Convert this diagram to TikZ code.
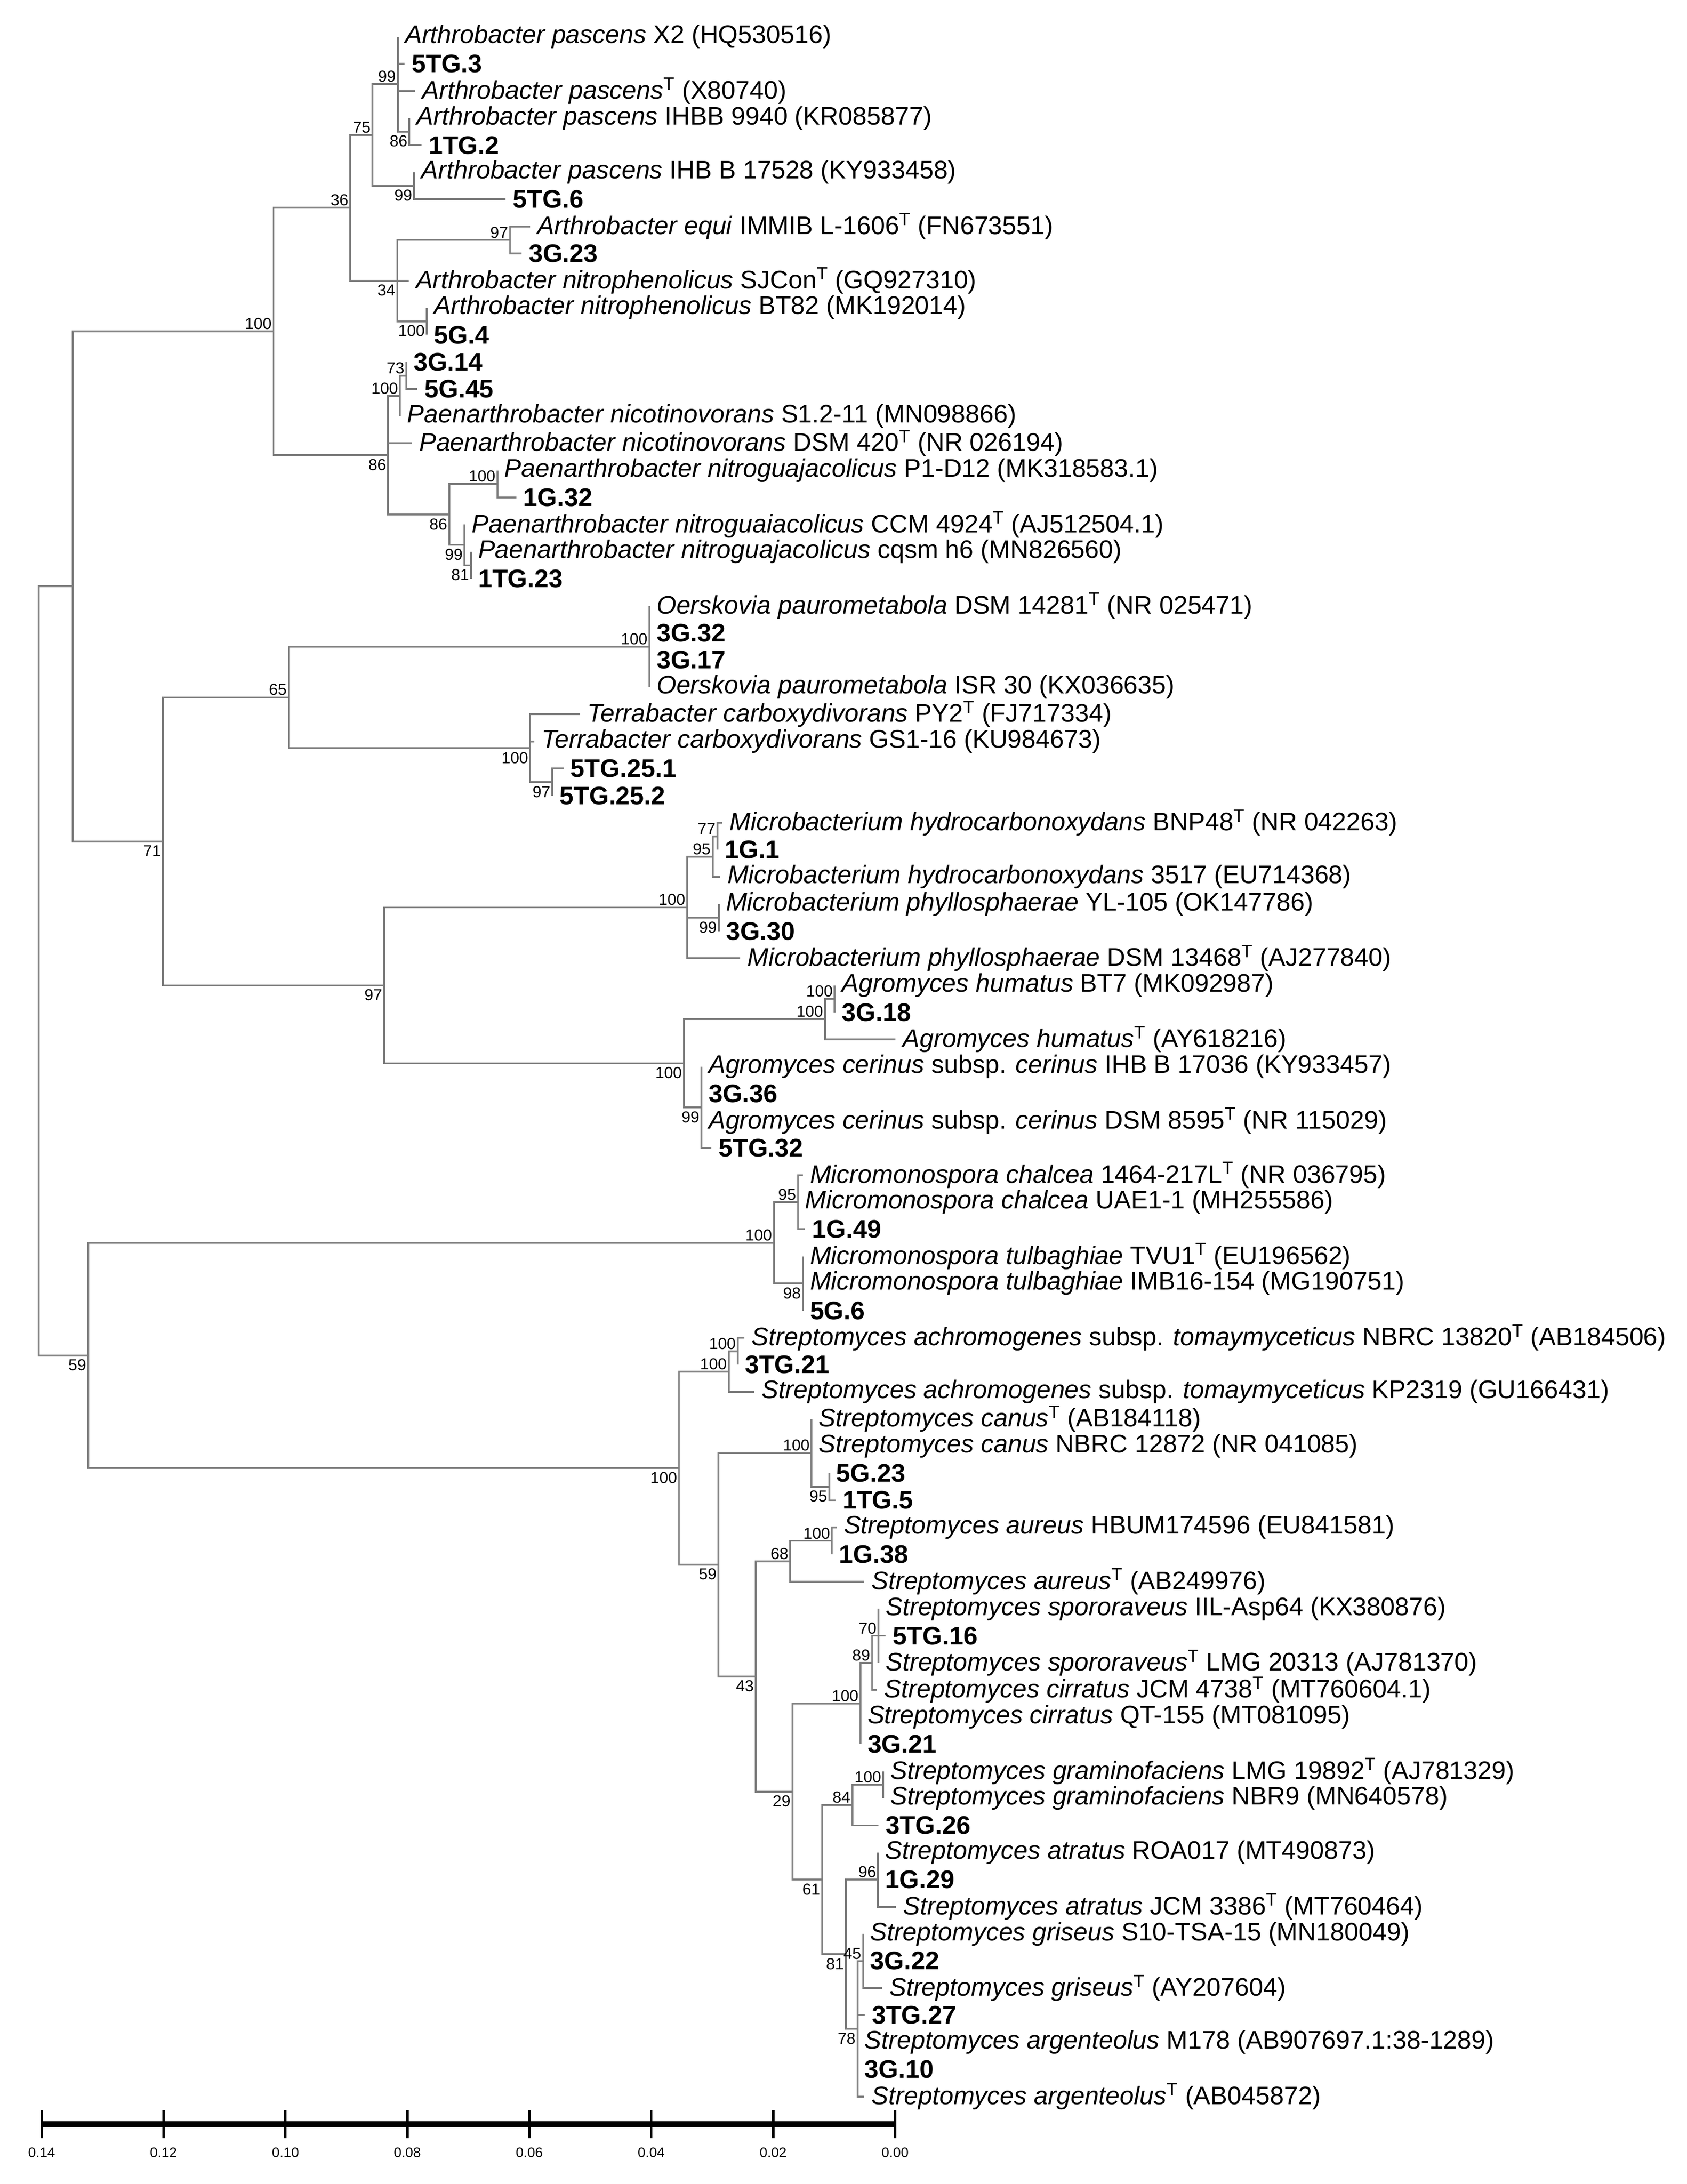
\documentclass[tikz,border=0pt]{standalone}
\usepackage{fontspec}
\setmainfont{Liberation Sans}
\newcommand\supT{\textsuperscript{T}}
\definecolor{brc}{RGB}{125,125,125}
\begin{document}
\begin{tikzpicture}[x=1pt,y=-19.53pt,
  br/.style={draw=brc,line width=1.3pt},
  leaf/.style={anchor=west,inner xsep=5pt,inner ysep=0pt,font=\fontsize{18.3}{20}\selectfont},
  bl/.style={leaf,font=\fontsize{18.3}{20}\selectfont\bfseries},
  bsa/.style={anchor=south east,inner sep=1.2pt,font=\fontsize{11.5}{12}\selectfont},
  bsb/.style={anchor=north east,inner sep=1.2pt,yshift=-1.5pt,font=\fontsize{11.5}{12}\selectfont},
  tl/.style={font=\fontsize{10}{11}\selectfont,inner sep=0pt}]
\useasboundingbox (0,-0.357) rectangle (1215.6,80.23);
% ---------- leaves ----------
\node[leaf] (l1) at (286.7,1) {\textit{Arthrobacter pascens} X2 (HQ530516)};
\node[bl] (l2) at (291.5,2) {5TG.3};
\node[leaf] (l3) at (299,3) {\textit{Arthrobacter pascens}\supT{} (X80740)};
\node[leaf] (l4) at (295,4) {\textit{Arthrobacter pascens} IHBB 9940 (KR085877)};
\node[bl] (l5) at (303.7,5) {1TG.2};
\node[leaf] (l6) at (298.4,6) {\textit{Arthrobacter pascens} IHB B 17528 (KY933458)};
\node[bl] (l7) at (364.4,7) {5TG.6};
\node[leaf] (l8) at (382,8) {\textit{Arthrobacter equi} IMMIB L-1606\supT{} (FN673551)};
\node[bl] (l9) at (375.8,9) {3G.23};
\node[leaf] (l10) at (294.5,10) {\textit{Arthrobacter nitrophenolicus} SJCon\supT{} (GQ927310)};
\node[leaf] (l11) at (307.5,11) {\textit{Arthrobacter nitrophenolicus} BT82 (MK192014)};
\node[bl] (l12) at (307.5,12) {5G.4};
\node[bl] (l13) at (292.8,13) {3G.14};
\node[bl] (l14) at (300.7,14) {5G.45};
\node[leaf] (l15) at (288.2,15) {\textit{Paenarthrobacter nicotinovorans} S1.2-11 (MN098866)};
\node[leaf] (l16) at (296.9,16) {\textit{Paenarthrobacter nicotinovorans} DSM 420\supT{} (NR 026194)};
\node[leaf] (l17) at (358.4,17) {\textit{Paenarthrobacter nitroguajacolicus} P1-D12 (MK318583.1)};
\node[bl] (l18) at (372,18) {1G.32};
\node[leaf] (l19) at (334.8,19) {\textit{Paenarthrobacter nitroguaiacolicus} CCM 4924\supT{} (AJ512504.1)};
\node[leaf] (l20) at (339.4,20) {\textit{Paenarthrobacter nitroguajacolicus} cqsm h6 (MN826560)};
\node[bl] (l21) at (339.4,21) {1TG.23};
\node[leaf] (l22) at (468,22) {\textit{Oerskovia paurometabola} DSM 14281\supT{} (NR 025471)};
\node[bl] (l23) at (468,23) {3G.32};
\node[bl] (l24) at (468,24) {3G.17};
\node[leaf] (l25) at (468,25) {\textit{Oerskovia paurometabola} ISR 30 (KX036635)};
\node[leaf] (l26) at (418,26) {\textit{Terrabacter carboxydivorans} PY2\supT{} (FJ717334)};
\node[leaf] (l27) at (385,27) {\textit{Terrabacter carboxydivorans} GS1-16 (KU984673)};
\node[bl] (l28) at (406,28) {5TG.25.1};
\node[bl] (l29) at (398,29) {5TG.25.2};
\node[leaf] (l30) at (520.5,30) {\textit{Microbacterium hydrocarbonoxydans} BNP48\supT{} (NR 042263)};
\node[bl] (l31) at (517,31) {1G.1};
\node[leaf] (l32) at (519,32) {\textit{Microbacterium hydrocarbonoxydans} 3517 (EU714368)};
\node[leaf] (l33) at (518,33) {\textit{Microbacterium phyllosphaerae} YL-105 (OK147786)};
\node[bl] (l34) at (518,34) {3G.30};
\node[leaf] (l35) at (533.4,35) {\textit{Microbacterium phyllosphaerae} DSM 13468\supT{} (AJ277840)};
\node[leaf] (l36) at (601.5,36) {\textit{Agromyces humatus} BT7 (MK092987)};
\node[bl] (l37) at (601.5,37) {3G.18};
\node[leaf] (l38) at (645.3,38) {\textit{Agromyces humatus}\supT{} (AY618216)};
\node[leaf] (l39) at (505.4,39) {\textit{Agromyces cerinus} subsp. \textit{cerinus} IHB B 17036 (KY933457)};
\node[bl] (l40) at (505.4,40) {3G.36};
\node[leaf] (l41) at (505.4,41) {\textit{Agromyces cerinus} subsp. \textit{cerinus} DSM 8595\supT{} (NR 115029)};
\node[bl] (l42) at (512.6,42) {5TG.32};
\node[leaf] (l43) at (578.5,43) {\textit{Micromonospora chalcea} 1464-217L\supT{} (NR 036795)};
\node[leaf] (l44) at (575,44) {\textit{Micromonospora chalcea} UAE1-1 (MH255586)};
\node[bl] (l45) at (580,45) {1G.49};
\node[leaf] (l46) at (578.5,46) {\textit{Micromonospora tulbaghiae} TVU1\supT{} (EU196562)};
\node[leaf] (l47) at (578.5,47) {\textit{Micromonospora tulbaghiae} IMB16-154 (MG190751)};
\node[bl] (l48) at (578.5,48) {5G.6};
\node[leaf] (l49) at (536.5,49) {\textit{Streptomyces achromogenes} subsp. \textit{tomaymyceticus} NBRC 13820\supT{} (AB184506)};
\node[bl] (l50) at (531.6,50) {3TG.21};
\node[leaf] (l51) at (543.5,51) {\textit{Streptomyces achromogenes} subsp. \textit{tomaymyceticus} KP2319 (GU166431)};
\node[leaf] (l52) at (584.8,52) {\textit{Streptomyces canus}\supT{} (AB184118)};
\node[leaf] (l53) at (584.8,53) {\textit{Streptomyces canus} NBRC 12872 (NR 041085)};
\node[bl] (l54) at (597.5,54) {5G.23};
\node[bl] (l55) at (602,55) {1TG.5};
\node[leaf] (l56) at (603,56) {\textit{Streptomyces aureus} HBUM174596 (EU841581)};
\node[bl] (l57) at (599.5,57) {1G.38};
\node[leaf] (l58) at (622.8,58) {\textit{Streptomyces aureus}\supT{} (AB249976)};
\node[leaf] (l59) at (633,59) {\textit{Streptomyces spororaveus} IIL-Asp64 (KX380876)};
\node[bl] (l60) at (638.2,60) {5TG.16};
\node[leaf] (l61) at (633,61) {\textit{Streptomyces spororaveus}\supT{} LMG 20313 (AJ781370)};
\node[leaf] (l62) at (632,62) {\textit{Streptomyces cirratus} JCM 4738\supT{} (MT760604.1)};
\node[leaf] (l63) at (620,63) {\textit{Streptomyces cirratus} QT-155 (MT081095)};
\node[bl] (l64) at (620,64) {3G.21};
\node[leaf] (l65) at (636.4,65) {\textit{Streptomyces graminofaciens} LMG 19892\supT{} (AJ781329)};
\node[leaf] (l66) at (636.4,66) {\textit{Streptomyces graminofaciens} NBR9 (MN640578)};
\node[bl] (l67) at (633.1,67) {3TG.26};
\node[leaf] (l68) at (632.8,68) {\textit{Streptomyces atratus} ROA017 (MT490873)};
\node[bl] (l69) at (632.8,69) {1G.29};
\node[leaf] (l70) at (645.7,70) {\textit{Streptomyces atratus} JCM 3386\supT{} (MT760464)};
\node[leaf] (l71) at (622,71) {\textit{Streptomyces griseus} S10-TSA-15 (MN180049)};
\node[bl] (l72) at (622,72) {3G.22};
\node[leaf] (l73) at (635.7,73) {\textit{Streptomyces griseus}\supT{} (AY207604)};
\node[bl] (l74) at (623.1,74) {3TG.27};
\node[leaf] (l75) at (617.9,75) {\textit{Streptomyces argenteolus} M178 (AB907697.1:38-1289)};
\node[bl] (l76) at (617.9,76) {3G.10};
\node[leaf] (l77) at (622.9,77) {\textit{Streptomyces argenteolus}\supT{} (AB045872)};
% ---------- internal nodes ----------
\coordinate (F) at (295,4.5);
\coordinate (D) at (286.7,2.75);
\coordinate (E) at (298.4,6.5);
\coordinate (C) at (268.5,4.625);
\coordinate (H) at (367.5,8.5);
\coordinate (I) at (307.5,11.5);
\coordinate (G) at (286.2,10);
\coordinate (B) at (252.4,7.3125);
\coordinate (M) at (292.8,13.5);
\coordinate (K) at (288.2,14.25);
\coordinate (N) at (358.4,17.5);
\coordinate (P) at (339.4,20.5);
\coordinate (O) at (334.8,19.75);
\coordinate (L) at (323.7,18.625);
\coordinate (J) at (279.7,16.4375);
\coordinate (A) at (197.1,11.875);
\coordinate (Q) at (468,23.5);
\coordinate (S) at (398,28.5);
\coordinate (R) at (382,27.25);
\coordinate (T) at (208,25.375);
\coordinate (Y) at (517,30.5);
\coordinate (X) at (513.5,31.25);
\coordinate (Z) at (518,33.5);
\coordinate (V) at (495.2,33.125);
\coordinate (AC) at (601.5,36.5);
\coordinate (AA) at (594.5,37.25);
\coordinate (AB) at (505.4,40.5);
\coordinate (W) at (492.8,38.875);
\coordinate (U) at (276.8,36);
\coordinate (U0) at (117.4,30.69);
\coordinate (N1) at (52.4,21.28);
\coordinate (MA) at (575,44);
\coordinate (MB) at (578.5,47);
\coordinate (MM) at (557.7,45.5);
\coordinate (SB) at (531.6,49.5);
\coordinate (SA) at (525.1,50.25);
\coordinate (SE) at (597.5,54.5);
\coordinate (SD) at (584.8,53.25);
\coordinate (SH) at (599.5,56.5);
\coordinate (SG) at (569.5,57.25);
\coordinate (SK) at (633,60);
\coordinate (SJ) at (628.4,61);
\coordinate (SI) at (620,62.5);
\coordinate (SO) at (636.4,65.5);
\coordinate (SN) at (614.2,66.25);
\coordinate (SQ) at (632.8,69);
\coordinate (SR) at (622,72);
\coordinate (ST) at (617.9,74.5);
\coordinate (SP) at (609.5,71.75);
\coordinate (SM) at (592.4,69);
\coordinate (SL) at (571,65.75);
\coordinate (SF) at (544.6,61.5);
\coordinate (SC) at (517.8,57.375);
\coordinate (SS) at (489.3,53.81);
\coordinate (N2) at (63.5,49.66);
\coordinate (root) at (27.8,35.47);
% ---------- branches ----------
\foreach \p/\c in {F/l4,F/l5,D/l1,D/l2,D/l3,E/l6,E/l7,H/l8,H/l9,G/l10,I/l11,I/l12,
  M/l13,M/l14,K/l15,J/l16,N/l17,N/l18,O/l19,P/l20,P/l21,
  Q/l22,Q/l23,Q/l24,Q/l25,R/l26,R/l27,S/l28,S/l29,
  Y/l30,Y/l31,X/l32,Z/l33,Z/l34,V/l35,AC/l36,AC/l37,AA/l38,AB/l39,AB/l40,AB/l41,AB/l42,
  MA/l43,MA/l44,MA/l45,MB/l46,MB/l47,MB/l48,
  SB/l49,SB/l50,SA/l51,SD/l52,SD/l53,SE/l54,SE/l55,SH/l56,SH/l57,SG/l58,
  SK/l59,SK/l60,SK/l61,SJ/l62,SI/l63,SI/l64,SO/l65,SO/l66,SN/l67,
  SQ/l68,SQ/l69,SQ/l70,SR/l71,SR/l72,SR/l73,ST/l74,ST/l75,ST/l76,ST/l77}
  \draw[br] (\p) |- (\c.west);
\foreach \p/\c in {D/F,C/D,C/E,G/H,G/I,B/C,B/G,M/M,K/M,L/N,O/P,L/O,J/K,J/L,A/B,A/J,
  T/Q,R/S,T/R,X/Y,V/X,V/Z,AA/AC,W/AA,W/AB,U/V,U/W,U0/T,U0/U,N1/A,N1/U0,
  MM/MA,MM/MB,SA/SB,SD/SE,SG/SH,SJ/SK,SI/SJ,SN/SO,ST/SR,SP/SQ,SP/ST,SM/SN,SM/SP,
  SL/SI,SL/SM,SF/SG,SF/SL,SC/SD,SC/SF,SS/SA,SS/SC,N2/MM,N2/SS,root/N1,root/N2}
  \draw[br] (\p) |- (\c);
% ---------- bootstrap values ----------
\foreach \n/\v/\s in {D/99/bsa,C/75/bsa,F/86/bsb,E/99/bsb,B/36/bsa,H/97/bsa,G/34/bsb,I/100/bsb,
  A/100/bsa,M/73/bsa,K/100/bsa,J/86/bsb,N/100/bsa,L/86/bsb,O/99/bsb,P/81/bsb,
  Q/100/bsa,T/65/bsa,R/100/bsb,S/97/bsb,U0/71/bsb,V/100/bsa,X/95/bsa,Y/77/bsa,Z/99/bsb,
  U/97/bsb,AC/100/bsa,AA/100/bsa,W/100/bsb,AB/99/bsb,MM/100/bsa,MA/95/bsa,MB/98/bsb,
  N2/59/bsb,SB/100/bsa,SA/100/bsa,SS/100/bsb,SD/100/bsa,SE/95/bsb,SH/100/bsa,SG/68/bsa,
  SC/59/bsb,SK/70/bsa,SJ/89/bsa,SI/100/bsa,SF/43/bsb,SL/29/bsb,SM/61/bsb,SN/84/bsa,
  SO/100/bsa,SP/81/bsb,SQ/96/bsa,SR/45/bsa,ST/78/bsb}
  \node[\s] (b\n) at (\n) {\v};
% ---------- scale bar ----------
\coordinate (sL) at (30,78.03);
\coordinate (sR) at (645,78.03);
\draw[line width=4.5pt] (sL) -- (sR);
\foreach \i/\t in {0/0.14,1/0.12,2/0.10,3/0.08,4/0.06,5/0.04,6/0.02,7/0.00}{
  \draw[line width=1.8pt] ({30+\i*87.857},77.52) -- ({30+\i*87.857},78.54);
  \node[tl] (t\i) at ({30+\i*87.857},79.06) {\t};
}
\end{tikzpicture}
\end{document}
